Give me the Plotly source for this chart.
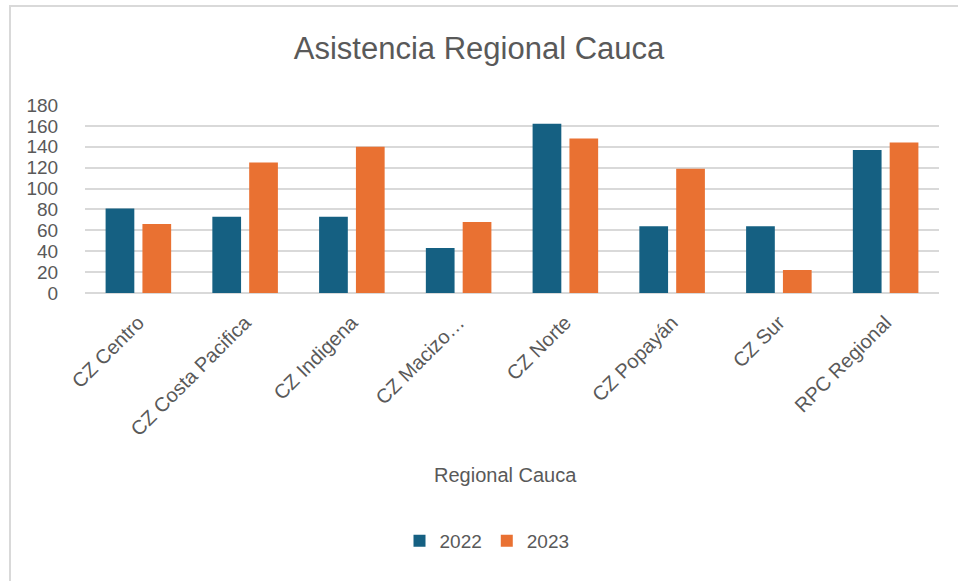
import plotly.graph_objects as go

categories = ["CZ Centro", "CZ Costa Pacifica", "CZ Indigena", "CZ Macizo…",
              "CZ Norte", "CZ Popayán", "CZ Sur", "RPC Regional"]
values_2022 = [81, 73, 73, 43, 162, 64, 64, 137]
values_2023 = [66, 125, 140, 68, 148, 119, 22, 144]
y_ticks = [0, 20, 40, 60, 80, 100, 120, 140, 160, 180]

FONT = "Liberation Sans, Arial, sans-serif"
GRAY = "#595959"

fig = go.Figure()
fig.add_trace(go.Bar(name="2022", x=categories, y=values_2022,
                     marker=dict(color="#156082", line=dict(width=0))))
fig.add_trace(go.Bar(name="2023", x=categories, y=values_2023,
                     marker=dict(color="#E97132", line=dict(width=0))))

fig.update_layout(
    width=958, height=581,
    margin=dict(l=85, r=19, t=105, b=288, autoexpand=False),
    paper_bgcolor="white", plot_bgcolor="white",
    barmode="group", bargap=0.31, bargroupgap=0.22,
    title=dict(text="Asistencia Regional Cauca", x=0.5, xanchor="center",
               y=1 - 48 / 581, yanchor="middle",
               font=dict(family=FONT, size=31, color=GRAY)),
    font=dict(family=FONT, color=GRAY),
    showlegend=True,
    legend=dict(orientation="h", x=(487 - 85) / 854, xanchor="center",
                y=-1.319, yanchor="middle",
                font=dict(family=FONT, size=19, color=GRAY),
                traceorder="normal"),
    xaxis=dict(
        tickangle=-45, tickfont=dict(family=FONT, size=20, color=GRAY),
        showgrid=False, showline=False, ticks="", automargin=False,
        ticklabelstandoff=13,
    ),
    yaxis=dict(
        range=[0, 180], tickvals=y_ticks, ticktext=[str(v) for v in y_ticks],
        tickfont=dict(family=FONT, size=19, color=GRAY),
        showgrid=True, gridcolor="#d9d9d9", gridwidth=1.5,
        zeroline=True, zerolinecolor="#d9d9d9", zerolinewidth=1.5,
        showline=False, ticks="outside", ticklen=22, tickcolor="rgba(0,0,0,0)",
        automargin=False,
    ),
    annotations=[dict(text="Regional Cauca", xref="paper", yref="paper",
                      x=(505 - 85) / 854, y=(293 - 475) / 188,
                      xanchor="center", yanchor="middle", showarrow=False,
                      font=dict(family=FONT, size=20, color=GRAY))],
    shapes=[dict(type="rect", xref="paper", yref="paper",
                 x0=(10 - 85) / 854, x1=(975 - 85) / 854,
                 y0=1 - (600 - 105) / 188, y1=1 + (105 - 6) / 188,
                 line=dict(color="#d9d9d9", width=2), layer="below")],
)

fig.write_html("out.html", config={"displayModeBar": False},
               post_script="document.body.style.margin='0';")
